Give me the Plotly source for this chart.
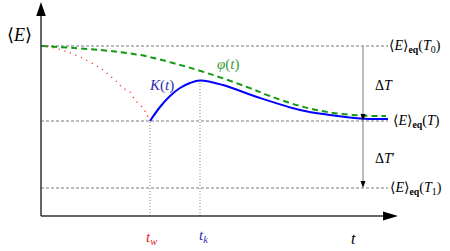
import plotly.graph_objects as go

# ---- data (t, E in abstract units) ----
E_T0 = 17.0
E_T = 9.5
E_T1 = 2.8
t_w = 10.9
t_k = 15.9
t_end = 34.7
t_arrow = 32.2

phi_t = [0, 5.9, 9.9, 13.2, 16.6, 20.6, 22.9, 25.9, 28.9, 31.9, 34.5]
phi_E = [17.0, 16.6, 16.1, 15.3, 14.3, 12.9, 12.0, 11.0, 10.35, 10.05, 10.0]

K_t = [10.9, 11.9, 12.9, 13.9, 14.9, 15.9, 18.2, 21.6, 25.9, 28.9, 31.9, 34.7]
K_E = [9.5, 10.9, 12.0, 12.8, 13.3, 13.55, 13.1, 11.9, 10.6, 10.1, 9.75, 9.7]

red_t = [0, 0.9, 2.4, 3.9, 5.9, 7.6, 8.2, 8.9, 9.4, 10.2, 10.5, 10.7]
red_E = [17.0, 16.9, 16.5, 15.9, 14.8, 13.4, 12.8, 12.4, 11.6, 10.8, 10.3, 9.9]

x_min, x_max = -4.1, 40.9
y_min, y_max = -3.5, 21.6
x_tip = 35.7
y_tip = 21.4

serif = "Liberation Serif, DejaVu Serif, serif"

fig = go.Figure()
fig.add_trace(go.Scatter(x=red_t, y=red_E, mode="lines", line=dict(color="#ff2020", width=1.5, dash="1px,5px", shape="spline"), hoverinfo="skip"))
fig.add_trace(go.Scatter(x=phi_t, y=phi_E, mode="lines", line=dict(color="#119911", width=2, dash="6px,4px", shape="spline"), hoverinfo="skip"))
fig.add_trace(go.Scatter(x=K_t, y=K_E, mode="lines", line=dict(color="#0000ff", width=2, shape="spline"), hoverinfo="skip"))

shapes = []
gray_dash = dict(color="#7a7a7a", width=1, dash="3px,2px")
for yv in (E_T0, E_T, E_T1):
    shapes.append(dict(type="line", x0=0, x1=t_end, y0=yv, y1=yv, line=gray_dash, layer="below"))
gray_dot = dict(color="#8a8a8a", width=1, dash="1px,2px")
shapes.append(dict(type="line", x0=t_w, x1=t_w, y0=0, y1=E_T, line=gray_dot, layer="below"))
shapes.append(dict(type="line", x0=t_k, x1=t_k, y0=0, y1=max(K_E), line=gray_dot, layer="below"))

# axes
ax_line = dict(color="#333333", width=1.5)
shapes.append(dict(type="line", x0=0, x1=0, y0=0, y1=y_tip - 1.2, line=ax_line))
shapes.append(dict(type="line", x0=0, x1=x_tip - 1.2, y0=0, y1=0, line=ax_line))
shapes.append(dict(type="path", path=f"M 0,{y_tip} L -0.48,{y_tip-1.4} L 0.48,{y_tip-1.4} Z", fillcolor="black", line=dict(width=0)))
shapes.append(dict(type="path", path=f"M {x_tip},0 L {x_tip-1.5},0.46 L {x_tip-1.5},-0.46 Z", fillcolor="black", line=dict(width=0)))

# delta arrows
arr_line = dict(color="#999999", width=1.3)
shapes.append(dict(type="line", x0=t_arrow, x1=t_arrow, y0=E_T0, y1=E_T + 0.5, line=arr_line))
shapes.append(dict(type="line", x0=t_arrow, x1=t_arrow, y0=E_T, y1=E_T1 + 0.5, line=arr_line))
for yv in (E_T, E_T1):
    shapes.append(dict(type="path", path=f"M {t_arrow},{yv} L {t_arrow-0.25},{yv+0.7} L {t_arrow+0.25},{yv+0.7} Z", fillcolor="black", line=dict(width=0)))

ann = []
def label(x, y, text, size=14, color="black", xanchor="center"):
    ann.append(dict(x=x, y=y, text=text, showarrow=False, xanchor=xanchor, yanchor="middle",
                    font=dict(family=serif, size=size, color=color)))

label(-2.2, 18.1, "⟨<i>E</i>⟩", size=18)
label(34.6, E_T0, "⟨<i>E</i>⟩<sub><b>eq</b></sub>(<i>T</i><sub>0</sub>)", size=14, xanchor="left")
label(35.0, E_T, "⟨<i>E</i>⟩<sub><b>eq</b></sub>(<i>T</i>)", size=14, xanchor="left")
label(34.7, E_T1, "⟨<i>E</i>⟩<sub><b>eq</b></sub>(<i>T</i><sub>1</sub>)", size=14, xanchor="left")
label(34.3, 13.1, "Δ<i>T</i>", size=14)
label(34.4, 5.8, "Δ<i>T</i>′", size=14)
label(12.0, 13.1, "<i>K</i>(<i>t</i>)", size=15, color="#3030b0")
label(18.7, 15.2, "<i>φ</i>(<i>t</i>)", size=15, color="#3a9a3a")
label(t_w + 0.1, -2.2, "<i>t<sub>w</sub></i>", size=15, color="#e02020")
label(t_k + 0.3, -2.0, "<i>t<sub>k</sub></i>", size=15, color="#3030b0")
label(31.2, -2.2, "<i>t</i>", size=16)

fig.update_layout(
    width=450, height=251,
    margin=dict(l=0, r=0, t=0, b=0),
    paper_bgcolor="white", plot_bgcolor="white",
    showlegend=False,
    xaxis=dict(range=[x_min, x_max], visible=False, fixedrange=True),
    yaxis=dict(range=[y_min, y_max], visible=False, fixedrange=True),
    shapes=shapes, annotations=ann,
)
fig.write_html("out.html", config={"displayModeBar": False},
               post_script="document.body.style.margin='0';document.body.style.overflow='hidden';")
